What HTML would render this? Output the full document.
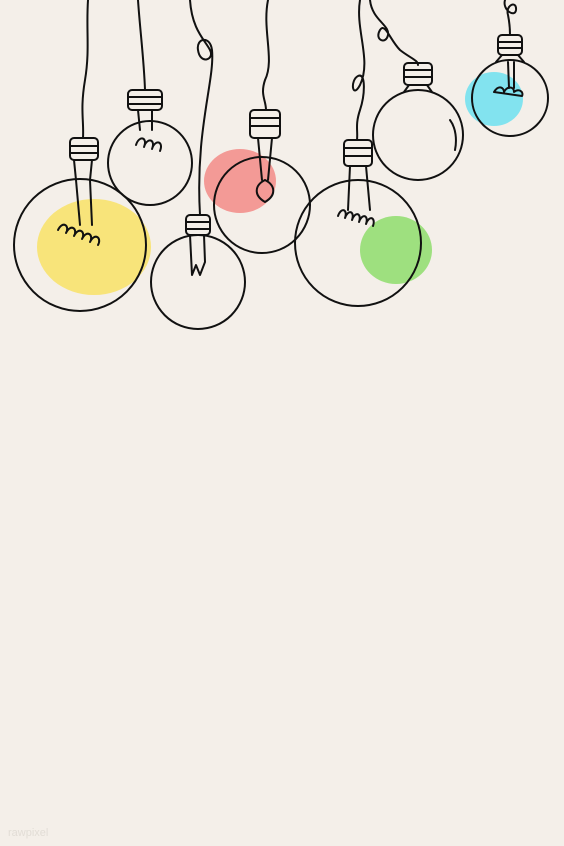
<!DOCTYPE html>
<html><head><meta charset="utf-8"><style>
html,body{margin:0;padding:0;background:#f4efe9;}
svg{display:block}
</style></head><body>
<svg width="564" height="846" viewBox="0 0 564 846" xmlns="http://www.w3.org/2000/svg">
<rect width="564" height="846" fill="#f4efe9"/>
<!-- color blobs -->
<g>
<ellipse cx="94" cy="247" rx="57" ry="48" fill="#f8e47a"/>
<ellipse cx="240" cy="181" rx="36" ry="32" fill="#f39a96"/>
<ellipse cx="396" cy="250" rx="36" ry="34" fill="#9ee07f"/>
<ellipse cx="494" cy="99" rx="29" ry="27" fill="#82e3ef"/>
</g>
<g fill="none" stroke="#111" stroke-width="2" stroke-linecap="round" stroke-linejoin="round">
<!-- bulb 1 -->
<g>
<path d="M88 0 C86 30 90 50 85 80 C80 110 84 120 83 138"/>
<circle cx="80" cy="245" r="66"/>
<rect x="70" y="138" width="28" height="22" rx="4"/>
<line x1="70" y1="146" x2="98" y2="146"/><line x1="70" y1="153" x2="98" y2="153"/>
<path d="M74 160 L76 180 L80 225 M92 160 L90 180 L92 225"/>
<path d="M58 230 c5 -10 12 -4 8 3 c5 -10 12 -4 8 3 c5 -10 12 -4 8 3 c5 -10 12 -4 8 3 c5 -10 12 -4 8 3"/>
</g>
<!-- bulb 2 -->
<g>
<path d="M138 0 C140 30 144 60 145 90"/>
<circle cx="150" cy="163" r="42"/>
<rect x="128" y="90" width="34" height="20" rx="4"/>
<line x1="128" y1="97" x2="162" y2="97"/><line x1="128" y1="104" x2="162" y2="104"/>
<path d="M138 110 L140 130 M152 110 L152 130"/>
<path d="M136 145 c3 -10 12 -8 8 2 c3 -10 12 -8 8 2 c3 -10 12 -8 8 2"/>
</g>
<!-- bulb 3 -->
<g>
<path d="M190 0 C192 30 205 40 210 50 C215 60 200 65 198 50 C196 38 210 35 212 50 C215 80 195 130 200 215"/>
<circle cx="198" cy="282" r="47"/>
<rect x="186" y="215" width="24" height="20" rx="4"/>
<line x1="186" y1="222" x2="210" y2="222"/><line x1="186" y1="229" x2="210" y2="229"/>
<path d="M190 235 L192 275 L196 265 L200 275 L205 262 L204 235"/>
</g>
<!-- bulb 4 -->
<g>
<path d="M268 0 C262 30 275 60 265 80 C260 95 266 100 266 110"/>
<circle cx="262" cy="205" r="48"/>
<rect x="250" y="110" width="30" height="28" rx="4"/>
<line x1="250" y1="118" x2="280" y2="118"/><line x1="250" y1="126" x2="280" y2="126"/>
<path d="M258 138 L262 180 M272 138 L268 180"/>
<path d="M265 180 c-10 5 -12 15 0 22 c12 -7 10 -17 0 -22"/>
</g>
<!-- bulb 5 -->
<g>
<path d="M360 0 C355 30 372 60 360 85 C352 100 350 80 358 76 C366 72 365 95 360 110 C355 125 358 130 357 140"/>
<circle cx="358" cy="243" r="63"/>
<rect x="344" y="140" width="28" height="26" rx="4"/>
<line x1="344" y1="148" x2="372" y2="148"/><line x1="344" y1="156" x2="372" y2="156"/>
<path d="M350 166 L348 210 M366 166 L370 210"/>
<path d="M338 216 c3 -9 10 -7 7 2 c3 -9 10 -7 7 2 c3 -9 10 -7 7 2 c3 -9 10 -7 7 2 c3 -9 10 -7 7 2"/>
</g>
<!-- bulb 6 -->
<g>
<path d="M370 0 C372 20 390 25 388 35 C386 45 374 40 380 30 C385 22 390 40 400 50 C410 58 418 60 418 65"/>
<circle cx="418" cy="135" r="45"/>
<rect x="404" y="63" width="28" height="22" rx="4"/>
<line x1="404" y1="70" x2="432" y2="70"/><line x1="404" y1="77" x2="432" y2="77"/>
<path d="M409 85 L404 92 M427 85 L432 92"/>
<path d="M450 120 c6 8 7 20 5 30"/>
</g>
<!-- bulb 7 -->
<g>
<path d="M505 0 C502 10 515 18 516 10 C517 0 505 5 508 15 C510 25 510 30 510 35"/>
<circle cx="510" cy="98" r="38"/>
<rect x="498" y="35" width="24" height="20" rx="4"/>
<line x1="498" y1="42" x2="522" y2="42"/><line x1="498" y1="48" x2="522" y2="48"/>
<path d="M502 55 L496 62 M518 55 L524 62 M508 62 L509 88 M514 62 L514 88"/>
<path d="M494 92 c5 -8 10 -4 10 0 c3 -6 10 -6 10 0 c5 -4 10 0 8 4 l-28 -4"/>
</g>
</g>
<text x="8" y="836" font-family="Liberation Sans, sans-serif" font-size="11" fill="#e2ddd6">rawpixel</text>
</svg>
</body></html>
